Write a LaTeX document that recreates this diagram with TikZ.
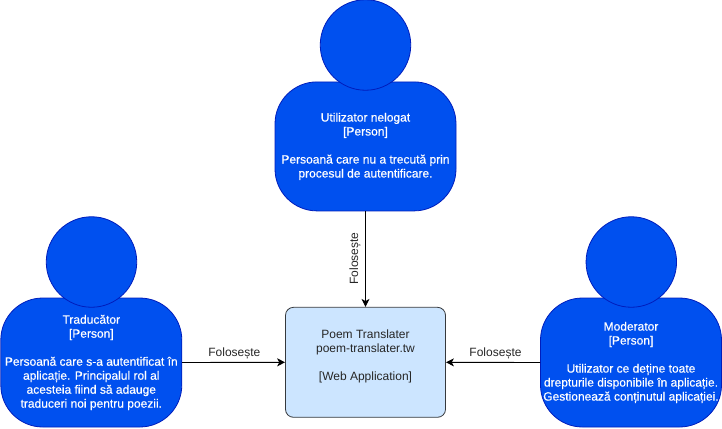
\documentclass[tikz,border=0pt]{standalone}
\usepackage{fontspec}
\setmainfont{Liberation Sans}
\newfontfamily\whitefont[FakeBold=0.35]{Liberation Sans}
\usetikzlibrary{arrows.meta}
\definecolor{pfill}{HTML}{0050EF}
\definecolor{pline}{HTML}{001DBC}
\definecolor{bfill}{HTML}{CCE5FF}
\definecolor{bline}{HTML}{36393D}
\tikzset{
  body/.style={draw=pline,fill=pfill,line width=.8pt,rounded corners=42pt,minimum width=181pt,minimum height=129pt,inner sep=0pt,text=white,align=center,font=\whitefont\fontsize{12}{14}\selectfont},
  head/.style={circle,draw=pline,fill=pfill,line width=.8pt,minimum size=90.5pt,inner sep=0pt},
  sysbox/.style={draw=bline,fill=bfill,line width=.8pt,rounded corners=8pt,minimum width=160pt,minimum height=110pt,inner sep=0pt,text=black!85,align=center,font=\fontsize{12}{14}\selectfont},
  conn/.style={draw=black,line width=.9pt,-{Stealth[length=8pt,width=8pt,inset=2.2pt]}},
  lbl/.style={font=\fontsize{12}{14}\selectfont,text=black!85,inner sep=.5pt}
}
\begin{document}
\begin{tikzpicture}[x=1pt,y=-1pt]
\useasboundingbox (0,0) rectangle (722,428);
\node[body] (b1) at (365.5,146.4) {Utilizator nelogat\\{[Person]}\\[14pt]Persoană care nu a trecută prin\\procesul de autentificare.};
\node[head] (h1) at (365.5,45) {};
\node[body] (b2) at (91.3,362.5) {Traducător\\{[Person]}\\[14pt]Persoană care s-a autentificat în\\aplicație. Principalul rol al\\acesteia fiind să adauge\\traduceri noi pentru poezii.};
\node[head] (h2) at (91.5,262) {};
\node[body] (b3) at (631,362.5) {Moderator\\{[Person]}\\[14pt]Utilizator ce deține toate\\drepturile disponibile în aplicație.\\Gestionează conținutul aplicației.};
\node[head] (h3) at (631.3,262) {};
\node[sysbox] (s) at (365.5,362.3) {Poem Translater\\poem-translater.tw\\[14pt]{[Web Application]}\\\mbox{}};
\draw[conn] (b1.south) -- (s.north);
\draw[conn] (b2.east) -- (s.west);
\draw[conn] (b3.west) -- (s.east);
\node[lbl,rotate=90] at (355,258.5) {Folosește};
\node[lbl] at (234.4,353) {Folosește};
\node[lbl] at (495.5,353) {Folosește};
\end{tikzpicture}
\end{document}
